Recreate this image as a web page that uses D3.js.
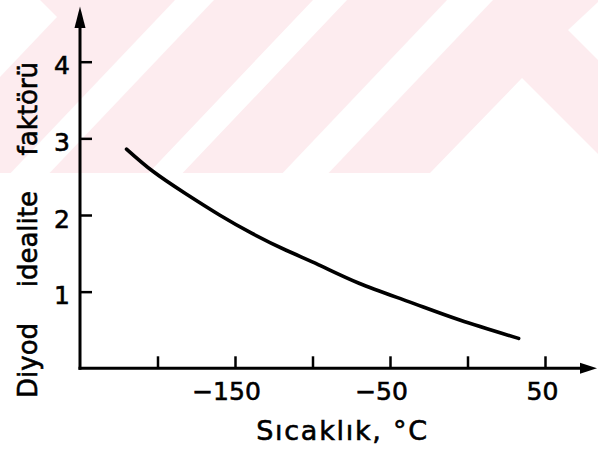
<!DOCTYPE html>
<html>
<head>
<meta charset="utf-8">
<script src="https://cdn.jsdelivr.net/npm/d3@7"></script>
<style>
  html, body { margin: 0; padding: 0; background: #fff; }
  svg { display: block; }
  text { font-family: "DejaVu Sans", sans-serif; fill: #000; stroke: #000; stroke-width: 0.6px; }
</style>
</head>
<body>
<svg id="chart" width="598" height="455"></svg>
<script>
// Diode ideality factor as a function of temperature
const temperatures   = [-220, -203, -182, -160, -139, -117, -96, -70, -38, -5, 33];
const idealityFactor = [2.86, 2.57, 2.28, 2.00, 1.76, 1.54, 1.35, 1.11, 0.87, 0.63, 0.39];

const xTickValues = [-200, -150, -100, -50, 0, 50];
const xTickLabels = ["", "\u2212150", "", "\u221250", "", "50"];
const yTickValues = [1, 2, 3, 4];
const yTickLabels = ["1", "2", "3", "4"];

const xTitle = "Sıcaklık, °C";
const yTitle = "Diyod idealite faktörü";

const W = 598, H = 455;
const svg = d3.select("#chart");

// ---- pale diagonal banner behind the top of the figure ----
const bannerH = 173, lean = 0.95;
const banner = svg.append("g");
banner.append("rect").attr("x", 0).attr("y", 0).attr("width", W).attr("height", bannerH)
  .attr("fill", "#fdecef");
const gaps = [[175, 214], [313, 347], [447, 493]].map(([a, b]) =>
  [[a, 0], [b, 0], [b - lean * bannerH, bannerH], [a - lean * bannerH, bannerH]]);
gaps.push([[0, 0], [40, 0], [57, 17], [0, 77]]);
gaps.push([[W, 2], [568, 30], [W, 60]]);
gaps.push([[430, bannerH], [522, 78], [W, 154], [W, bannerH]]);
banner.selectAll("path.gap").data(gaps).join("path")
  .attr("class", "gap")
  .attr("d", p => "M" + p.map(q => q.join(",")).join("L") + "Z")
  .attr("fill", "#fff");

// ---- scales ----
const x = d3.scaleLinear().domain([-250, 50]).range([80, 545]);
const y = d3.scaleLinear().domain([0, 4]).range([368.3, 61.7]);
const x0 = x(-250), y0 = y(0);

// ---- axis lines with arrowheads ----
const axes = svg.append("g").attr("stroke", "#000").attr("fill", "#000");
axes.append("line").attr("x1", x0).attr("x2", x0).attr("y1", y0 + 1.5).attr("y2", 22)
  .attr("stroke-width", 3);
axes.append("path").attr("stroke", "none")
  .attr("d", `M${x0},6.5 L${x0 - 5.5},28 L${x0 + 5.5},28 Z`);
axes.append("line").attr("x1", x0 - 1.5).attr("x2", 585).attr("y1", y0).attr("y2", y0)
  .attr("stroke-width", 3);
axes.append("path").attr("stroke", "none")
  .attr("d", `M597,${y0} L580,${y0 - 5.5} L580,${y0 + 5.5} Z`);

// ---- ticks ----
const xAxis = d3.axisBottom(x).tickValues(xTickValues).tickSize(-12).tickPadding(0)
  .tickFormat((d, i) => xTickLabels[i]);
svg.append("g").attr("transform", `translate(0,${y0})`).call(xAxis)
  .attr("font-size", 25).attr("font-family", null)
  .call(g => g.select(".domain").remove())
  .call(g => g.selectAll(".tick line").attr("stroke", "#000").attr("stroke-width", 2.5))
  .call(g => g.selectAll(".tick text")
    .attr("y", 31.7).attr("dy", 0)
    .attr("text-anchor", "middle")
    .attr("dx", d => d < 0 ? -9 : -3));

const yAxis = d3.axisLeft(y).tickValues(yTickValues).tickSize(-12).tickPadding(0)
  .tickFormat((d, i) => yTickLabels[i]);
svg.append("g").attr("transform", `translate(${x0},0)`).call(yAxis)
  .attr("font-size", 25).attr("font-family", null)
  .call(g => g.select(".domain").remove())
  .call(g => g.selectAll(".tick line").attr("stroke", "#000").attr("stroke-width", 2.5))
  .call(g => g.selectAll(".tick text")
    .attr("x", -18).attr("dy", 0).attr("y", 12)
    .attr("text-anchor", "middle"));

// ---- curve ----
const pts = temperatures.map((t, i) => [t, idealityFactor[i]]);
const line = d3.line().x(d => x(d[0])).y(d => y(d[1])).curve(d3.curveNatural);
svg.append("path").datum(pts)
  .attr("d", line)
  .attr("fill", "none").attr("stroke", "#000")
  .attr("stroke-width", 3.6).attr("stroke-linecap", "round").attr("stroke-linejoin", "round");

// ---- titles ----
const xt = svg.append("text").attr("x", 342.5).attr("y", 440)
  .attr("text-anchor", "middle").attr("font-size", 27).text(xTitle);
const xtLen = xt.node().getComputedTextLength();
if (xtLen < 171) xt.attr("letter-spacing", (171 - xtLen) / (xTitle.length - 1));

const yt = svg.append("text")
  .attr("transform", "translate(37,230) rotate(-90)")
  .attr("text-anchor", "middle").attr("font-size", 26).text(yTitle);
const ytLen = yt.node().getComputedTextLength();
const words = yTitle.split(" ").length - 1;
if (ytLen < 336) yt.attr("word-spacing", (336 - ytLen) / words);
</script>
</body>
</html>
